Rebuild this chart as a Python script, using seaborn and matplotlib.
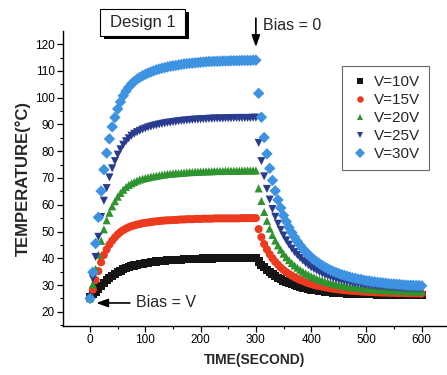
import matplotlib
matplotlib.use("Agg")
import matplotlib.pyplot as plt
from matplotlib.patches import Rectangle
from matplotlib.ticker import MultipleLocator
import pandas as pd
import seaborn as sns

# Sampling instants (s): bias on from 0 to 300 s, off from 300 to 600 s
TIME_S = list(range(0, 605, 5))

SERIES = ["V=10V", "V=15V", "V=20V", "V=25V", "V=30V"]

temp_10v = [
    25.5, 26.5, 27.6, 28.7, 29.8, 30.8, 31.8, 32.7, 33.5, 34.2,
    34.9, 35.4, 35.9, 36.3, 36.7, 37.0, 37.3, 37.6, 37.8, 38.0,
    38.2, 38.4, 38.5, 38.7, 38.8, 38.9, 39.0, 39.1, 39.2, 39.3,
    39.4, 39.4, 39.5, 39.5, 39.6, 39.6, 39.7, 39.7, 39.8, 39.8,
    39.8, 39.9, 39.9, 39.9, 39.9, 40.0, 40.0, 40.0, 40.0, 40.0,
    40.1, 40.1, 40.1, 40.1, 40.1, 40.1, 40.2, 40.2, 40.2, 40.2,
    40.2,
    38.8, 37.6, 36.6, 35.6, 34.8, 34.0, 33.3, 32.7, 32.1, 31.6,
    31.1, 30.7, 30.3, 29.9, 29.6, 29.3, 29.0, 28.8, 28.5, 28.3,
    28.1, 28.0, 27.8, 27.7, 27.5, 27.4, 27.3, 27.2, 27.1, 27.0,
    27.0, 26.9, 26.8, 26.8, 26.7, 26.7, 26.6, 26.6, 26.6, 26.5,
    26.5, 26.5, 26.5, 26.4, 26.4, 26.4, 26.4, 26.4, 26.3, 26.3,
    26.3, 26.3, 26.3, 26.3, 26.3, 26.2, 26.2, 26.2, 26.2, 26.2,
]

temp_15v = [
    25.0, 28.3, 31.9, 35.2, 38.5, 41.2, 43.3, 45.1, 46.6, 47.8,
    48.9, 49.8, 50.5, 51.1, 51.6, 52.0, 52.3, 52.6, 52.8, 53.1,
    53.2, 53.4, 53.5, 53.7, 53.8, 53.9, 54.0, 54.1, 54.2, 54.2,
    54.3, 54.3, 54.4, 54.5, 54.5, 54.6, 54.6, 54.6, 54.7, 54.7,
    54.7, 54.8, 54.8, 54.8, 54.8, 54.9, 54.9, 54.9, 54.9, 54.9,
    54.9, 54.9, 54.9, 54.9, 54.9, 55.0, 55.0, 55.0, 55.0, 55.0,
    55.0,
    50.9, 47.9, 45.3, 43.3, 41.5, 40.0, 38.7, 37.6, 36.5, 35.6,
    34.8, 34.1, 33.5, 32.9, 32.4, 31.9, 31.5, 31.1, 30.7, 30.4,
    30.1, 29.8, 29.6, 29.4, 29.2, 29.0, 28.8, 28.6, 28.5, 28.4,
    28.2, 28.1, 28.0, 27.9, 27.8, 27.8, 27.7, 27.6, 27.5, 27.5,
    27.4, 27.4, 27.3, 27.3, 27.2, 27.2, 27.2, 27.1, 27.1, 27.1,
    27.0, 27.0, 27.0, 27.0, 26.9, 26.9, 26.9, 26.9, 26.9, 26.8,
]

temp_20v = [
    25.0, 30.3, 36.0, 41.3, 46.5, 50.8, 54.2, 57.0, 59.4, 61.3,
    63.0, 64.4, 65.6, 66.6, 67.4, 68.0, 68.5, 69.0, 69.4, 69.7,
    70.0, 70.2, 70.5, 70.6, 70.8, 71.0, 71.2, 71.3, 71.5, 71.6,
    71.7, 71.8, 71.8, 71.9, 72.0, 72.1, 72.2, 72.2, 72.3, 72.3,
    72.4, 72.4, 72.5, 72.5, 72.5, 72.6, 72.6, 72.6, 72.6, 72.7,
    72.7, 72.7, 72.7, 72.7, 72.7, 72.8, 72.8, 72.8, 72.8, 72.8,
    72.8,
    66.1, 61.4, 57.3, 54.0, 51.1, 48.7, 46.6, 44.8, 43.2, 41.7,
    40.4, 39.3, 38.2, 37.3, 36.5, 35.7, 35.0, 34.4, 33.9, 33.3,
    32.9, 32.4, 32.0, 31.7, 31.3, 31.0, 30.8, 30.5, 30.3, 30.0,
    29.8, 29.7, 29.5, 29.3, 29.2, 29.1, 28.9, 28.8, 28.7, 28.6,
    28.5, 28.4, 28.4, 28.3, 28.2, 28.2, 28.1, 28.0, 28.0, 27.9,
    27.9, 27.8, 27.8, 27.7, 27.7, 27.7, 27.7, 27.6, 27.6, 27.6,
]

temp_25v = [
    25.0, 32.4, 40.5, 48.0, 55.4, 61.5, 66.2, 70.2, 73.6, 76.3,
    78.7, 80.7, 82.4, 83.7, 84.8, 85.8, 86.5, 87.1, 87.6, 88.1,
    88.5, 88.9, 89.2, 89.5, 89.7, 90.0, 90.2, 90.4, 90.6, 90.7,
    90.9, 91.0, 91.2, 91.3, 91.4, 91.5, 91.6, 91.7, 91.8, 91.8,
    91.9, 92.0, 92.0, 92.1, 92.1, 92.2, 92.2, 92.2, 92.2, 92.3,
    92.3, 92.3, 92.4, 92.4, 92.4, 92.4, 92.4, 92.4, 92.4, 92.5,
    92.5,
    83.1, 76.3, 70.6, 65.9, 61.9, 58.4, 55.5, 52.9, 50.6, 48.5,
    46.7, 45.1, 43.6, 42.3, 41.2, 40.1, 39.1, 38.2, 37.4, 36.6,
    36.0, 35.4, 34.8, 34.3, 33.8, 33.4, 33.0, 32.6, 32.3, 32.0,
    31.7, 31.5, 31.2, 31.0, 30.8, 30.6, 30.5, 30.3, 30.1, 30.0,
    29.9, 29.7, 29.7, 29.5, 29.4, 29.4, 29.3, 29.2, 29.1, 29.0,
    29.0, 28.9, 28.8, 28.8, 28.7, 28.7, 28.6, 28.6, 28.6, 28.5,
]

temp_30v = [
    25.0, 34.8, 45.5, 55.3, 65.1, 73.1, 79.3, 84.6, 89.1, 92.6,
    95.8, 98.4, 100.7, 102.4, 103.9, 105.1, 106.1, 106.9, 107.6, 108.2,
    108.7, 109.2, 109.6, 110.0, 110.4, 110.7, 111.0, 111.2, 111.5, 111.7,
    111.9, 112.0, 112.2, 112.4, 112.6, 112.7, 112.8, 112.9, 113.0, 113.1,
    113.2, 113.3, 113.4, 113.5, 113.5, 113.6, 113.6, 113.6, 113.7, 113.7,
    113.7, 113.8, 113.8, 113.8, 113.8, 113.9, 113.9, 113.9, 113.9, 114.0,
    114.0,
    101.6, 92.7, 85.1, 79.0, 73.6, 69.1, 65.2, 61.8, 58.8, 56.0,
    53.7, 51.5, 49.6, 47.9, 46.3, 44.9, 43.6, 42.4, 41.4, 40.4,
    39.5, 38.7, 38.0, 37.3, 36.7, 36.1, 35.6, 35.1, 34.7, 34.3,
    33.9, 33.6, 33.3, 33.0, 32.7, 32.5, 32.2, 32.1, 31.8, 31.6,
    31.5, 31.3, 31.2, 31.0, 30.9, 30.8, 30.7, 30.5, 30.4, 30.4,
    30.3, 30.2, 30.1, 30.0, 29.9, 29.9, 29.9, 29.8, 29.8, 29.7,
]

X_TICKS = [0, 100, 200, 300, 400, 500, 600]
Y_TICKS = [20, 30, 40, 50, 60, 70, 80, 90, 100, 110, 120]

COLORS = {
    "V=10V": "#151515",
    "V=15V": "#ec3a1e",
    "V=20V": "#2f932f",
    "V=25V": "#293c8f",
    "V=30V": "#3d92e2",
}
MARKERS = {"V=10V": "s", "V=15V": "o", "V=20V": "^", "V=25V": "v", "V=30V": "D"}

frames = []
for name, temps in zip(SERIES, [temp_10v, temp_15v, temp_20v, temp_25v, temp_30v]):
    frames.append(pd.DataFrame({"time": TIME_S, "temp": temps, "series": name}))
df = pd.concat(frames, ignore_index=True)

sns.set_style("ticks")
plt.rcParams["font.family"] = ["Liberation Sans", "DejaVu Sans"]

W, H = 447, 375
fig = plt.figure(figsize=(W / 100, H / 100), dpi=100)
fig.patch.set_facecolor("white")
ax = fig.add_axes([63 / W, 49 / H, 383 / W, 295 / H])

sns.scatterplot(
    data=df, x="time", y="temp", hue="series", style="series",
    palette=COLORS, markers=MARKERS, hue_order=SERIES, style_order=SERIES,
    s=34, linewidth=0, ax=ax, legend=True,
)

ax.set_xlim(-49, 644)
ax.set_ylim(14.7, 124.9)
ax.set_xticks(X_TICKS)
ax.set_yticks(Y_TICKS)
ax.xaxis.set_minor_locator(MultipleLocator(50))
ax.yaxis.set_minor_locator(MultipleLocator(5))
ax.tick_params(which="major", direction="out", length=4, width=0.9,
               labelsize=8.5, pad=2, color="black", labelcolor="black")
ax.tick_params(which="minor", direction="out", length=2.5, width=0.8, color="black")
sns.despine(ax=ax)
for side in ("left", "bottom"):
    ax.spines[side].set_color("black")
    ax.spines[side].set_linewidth(1.0)

ax.set_xlabel("TIME(SECOND)", fontsize=10, fontweight="bold", labelpad=5)
ax.set_ylabel("TEMPERATURE(°C)", fontsize=12, fontweight="bold", labelpad=3)

handles, labels = ax.get_legend_handles_labels()
pairs = [(h, l) for h, l in zip(handles, labels) if l in SERIES]
leg = ax.legend(
    [p[0] for p in pairs], [p[1] for p in pairs],
    loc="upper left", bbox_to_anchor=(342 / W, 1 - 66 / H),
    bbox_transform=fig.transFigure, borderaxespad=0, frameon=True, fancybox=False,
    edgecolor="#444444", fontsize=11, handletextpad=0.3, labelspacing=0.26,
    borderpad=0.6, handlelength=1.2, markerscale=0.8,
)
leg.get_frame().set_linewidth(0.8)

arrow_style = dict(arrowstyle="-|>,head_width=0.25,head_length=0.7",
                   color="black", lw=1.2, shrinkA=0, shrinkB=0)

# Bias switched off at 300 s
ax.annotate("", xy=(300, 118.9), xytext=(300, 129.7), arrowprops=arrow_style,
            annotation_clip=False)
ax.text(313, 127.1, "Bias = 0", ha="left", va="center", fontsize=11.5, clip_on=False)

# Bias applied at 0 s
ax.annotate("", xy=(11, 23.3), xytext=(72, 23.3), arrowprops=arrow_style)
ax.text(83, 23.3, "Bias = V", ha="left", va="center", fontsize=11.5)

# Title box with drop shadow
shadow = Rectangle((104 / W, 1 - 39 / H), 85 / W, 27 / H, transform=fig.transFigure,
                   facecolor="black", edgecolor="none")
box = Rectangle((100 / W, 1 - 36 / H), 85 / W, 27 / H, transform=fig.transFigure,
                facecolor="white", edgecolor="black", linewidth=0.8)
fig.patches.extend([shadow, box])
fig.text(142.5 / W, 1 - 22.5 / H, "Design 1", ha="center", va="center", fontsize=12)

fig.savefig("out.png", dpi=100)
